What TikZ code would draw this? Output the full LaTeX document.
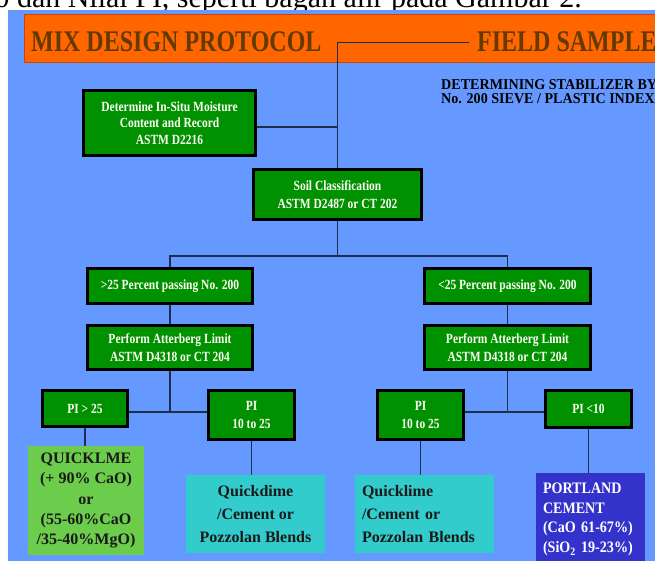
\documentclass[tikz,border=0pt]{standalone}
\usepackage{fontspec}
\setmainfont{Liberation Serif}
\newfontfamily\bannerfont[FakeStretch=0.8]{Liberation Serif}
\newfontfamily\boxfont[FakeStretch=0.82]{Liberation Serif}
\newfontfamily\cementfont[FakeStretch=0.88]{Liberation Serif}
\newfontfamily\notefont[FakeStretch=0.94]{Liberation Serif}
\usepackage{tikz}

\definecolor{bgBlue}{RGB}{102,153,255}
\definecolor{bannerOrange}{RGB}{255,102,0}
\definecolor{bannerEdge}{RGB}{204,68,0}
\definecolor{bannerText}{RGB}{100,58,0}
\definecolor{stepGreen}{RGB}{0,145,0}
\definecolor{limeGreen}{RGB}{108,204,76}
\definecolor{blendCyan}{RGB}{51,204,204}
\definecolor{cementBlue}{RGB}{51,51,204}
\definecolor{linkGrey}{RGB}{30,45,75}

\begin{document}
\begin{tikzpicture}[
    x=1pt, y=-1pt,
    % green step boxes with heavy black frame
    stepBox/.style={draw=black, line width=3pt, fill=stepGreen, text=white!96!yellow, inner sep=0pt, align=center,
        font=\boxfont\bfseries\fontsize{14}{17.5}\selectfont},
    % result boxes at the bottom, no frame
    resultBox/.style={inner sep=0pt, align=center, text=black!90,
        font=\bfseries\fontsize{16}{23}\selectfont},
    bannerTxt/.style={anchor=base west, inner sep=0pt, text=bannerText,
        font=\bannerfont\bfseries\fontsize{30}{30}\selectfont},
    link/.style={draw=linkGrey, line width=1.2pt}
]

    \useasboundingbox (0,0) rectangle (655,561);
    \clip (0,0) rectangle (655,561);

    % --- PAGE TEXT ABOVE THE CHART ---
    \node[anchor=base east, inner sep=0pt, font=\fontsize{30}{30}\selectfont] (topTxt) at (582,7.5)
        {00 dan Nilai PI, seperti bagan alir pada Gambar 2.};

    % --- BACKGROUND AND BANNER ---
    \fill[bgBlue] (8,10) rectangle (655,561);
    \node[draw=bannerEdge, fill=bannerOrange, line width=1pt, anchor=north west, inner sep=0pt,
        minimum width=650, minimum height=48] (banner) at (23.5,14.5) {};
    \node[bannerTxt] (mixTxt) at (31,52) {MIX DESIGN PROTOCOL};
    \node[bannerTxt] (fieldTxt) at (477,52) {FIELD SAMPLE};

    \node[anchor=north west, inner sep=0pt, align=left,
        font=\notefont\bfseries\fontsize{15}{14.5}\selectfont] (noteTxt) at (441,79)
        {DETERMINING STABILIZER BY\\No. 200 SIEVE / PLASTIC INDEX};

    % --- STEP BOXES ---
    \node[stepBox, minimum width=172, minimum height=65, font=\boxfont\bfseries\fontsize{14}{16.5}\selectfont]
        (detBox) at (169.5,123) {Determine In-Situ Moisture\\Content and Record\\ASTM D2216};
    \node[stepBox, minimum width=168, minimum height=50] (soilBox) at (337.5,194.5)
        {Soil Classification\\ASTM D2487 or CT 202};

    \node[stepBox, minimum width=165, minimum height=35] (passA) at (170,286) {>25 Percent passing No. 200};
    \node[stepBox, minimum width=166, minimum height=35] (passB) at (507.5,286) {<25 Percent passing No. 200};

    \node[stepBox, minimum width=165, minimum height=44] (attA) at (170,347.5)
        {Perform Atterberg Limit\\ASTM D4318 or CT 204};
    \node[stepBox, minimum width=166, minimum height=44] (attB) at (507.5,347.5)
        {Perform Atterberg Limit\\ASTM D4318 or CT 204};

    \node[stepBox, minimum width=85, minimum height=36] (piHigh) at (85,408.5) {PI > 25};
    \node[stepBox, minimum width=86, minimum height=49] (piMidA) at (251.5,415) {PI\\10 to 25};
    \node[stepBox, minimum width=86, minimum height=49] (piMidB) at (420.5,415) {PI\\10 to 25};
    \node[stepBox, minimum width=86, minimum height=37] (piLow) at (588.5,409) {PI <10};

    % --- RESULT BOXES ---
    \node[resultBox, fill=limeGreen, minimum width=116, minimum height=109,
        font=\bfseries\fontsize{16}{20.3}\selectfont] (limeBox) at (86,500.5)
        {QUICKLME\\(+ 90\% CaO)\\or\\(55-60\%CaO\\/35-40\%MgO)};
    \node[resultBox, fill=blendCyan, minimum width=139, minimum height=78] (blendA) at (255.5,514)
        {Quickdime\\/Cement or\\Pozzolan Blends};
    \node[resultBox, fill=blendCyan, minimum width=139, minimum height=78, align=left, text width=125]
        (blendB) at (424.5,514) {Quicklime\\/Cement or\\Pozzolan Blends};
    \node[resultBox, fill=cementBlue, text=white, minimum width=109, minimum height=93, align=left,
        text width=95, font=\cementfont\bfseries\fontsize{16}{19.7}\selectfont] (cementBox) at (590.5,519.5)
        {PORTLAND\\CEMENT\\(CaO 61-67\%)\\(SiO\textsubscript{2} 19-23\%)};

    % --- CONNECTORS ---
    \coordinate (forkSoil) at (337.5,256);
    \coordinate (forkA) at (170,412);
    \coordinate (forkB) at (507.5,412);

    \draw[link] ([xshift=-8pt]fieldTxt.west) -| (soilBox.north);
    \draw[link] ([yshift=-4pt]detBox.east) -- ([yshift=-4pt]detBox.east -| soilBox.north);

    \draw[link] (soilBox.south) -- (forkSoil);
    \draw[link] (passA.north) |- (forkSoil) -| (passB.north);

    \draw[link] (passA.south) -- (attA.north);
    \draw[link] (passB.south) -- (attB.north);

    \draw[link] (attA.south) -- (forkA);
    \draw[link] (piHigh.east |- forkA) -- (piMidA.west |- forkA);
    \draw[link] (attB.south) -- (forkB);
    \draw[link] (piMidB.east |- forkB) -- (piLow.west |- forkB);

    \draw[link] (piHigh.south) -- (piHigh.south |- limeBox.north);
    \draw[link] (piMidA.south) -- (piMidA.south |- blendA.north);
    \draw[link] (piMidB.south) -- (piMidB.south |- blendB.north);
    \draw[link] (piLow.south) -- (piLow.south |- cementBox.north);

\end{tikzpicture}
\end{document}
